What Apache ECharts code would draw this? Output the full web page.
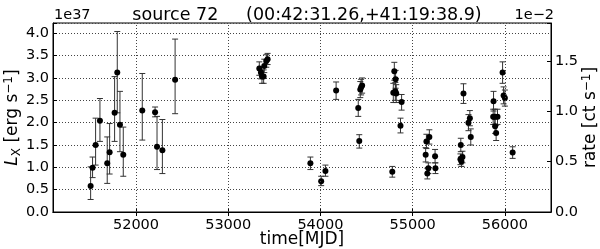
<!DOCTYPE html>
<html>
<head>
<meta charset="utf-8">
<script src="https://cdn.jsdelivr.net/npm/echarts@6/dist/echarts.min.js"></script>
<style>
html, body { margin: 0; padding: 0; background: #fff; }
#chart { width: 600px; height: 249px; }
</style>
</head>
<body>
<div id="chart"></div>
<script>
// light curve of source 72, luminosity in units of 1e37 erg/s
const mjd = [51508, 51529, 51562, 51609, 51688, 51714, 51768, 51797, 51826, 51862,
    52068, 52207, 52228, 52286, 52424,
    53337, 53355, 53366, 53384, 53391, 53413, 53427,
    53891, 54008, 54054, 54170, 54410, 54421, 54432, 54441, 54452,
    54779, 54790, 54801, 54815, 54812, 54822, 54868, 54880,
    55141, 55149, 55181, 55159, 55170, 55243, 55247,
    55522, 55518, 55529, 55540, 55551, 55605, 55620, 55630,
    55877, 55873, 55891, 55920, 55894, 55905, 55975, 55986, 56000, 56084];
const lum = [0.58, 0.99, 1.50, 2.04, 1.09, 1.34, 2.22, 3.12, 1.95, 1.28,
    2.27, 2.23, 1.46, 1.38, 2.96,
    3.21, 3.12, 3.03, 3.03, 3.27, 3.38, 3.42,
    1.09, 0.69, 0.92, 2.72, 2.33, 1.59, 2.74, 2.79, 2.83,
    0.90, 2.67, 3.15, 2.97, 2.70, 2.65, 1.93, 2.46,
    1.28, 1.58, 1.68, 0.86, 0.98, 1.25, 0.98,
    1.50, 1.18, 1.13, 1.23, 2.65, 2.00, 2.10, 1.68,
    2.48, 2.13, 2.13, 2.13, 1.92, 1.77, 3.12, 2.61, 2.55, 1.33];
const errLow = [0.28, 0.77, 1.05, 1.58, 0.64, 0.85, 1.58, 2.22, 1.35, 0.80,
    1.61, 2.13, 0.95, 0.86, 2.20,
    3.06, 2.98, 2.88, 2.88, 3.12, 3.24, 3.30,
    0.95, 0.59, 0.80, 2.52, 2.14, 1.43, 2.56, 2.62, 2.66,
    0.78, 2.45, 2.95, 2.77, 2.50, 2.45, 1.77, 2.28,
    1.12, 1.42, 1.52, 0.74, 0.86, 1.10, 0.86,
    1.35, 1.06, 1.02, 1.10, 2.43, 1.82, 1.93, 1.50,
    2.26, 1.96, 1.96, 1.96, 1.76, 1.60, 2.88, 2.42, 2.37, 1.20];
const errHigh = [1.01, 1.23, 2.10, 2.54, 1.68, 1.98, 3.03, 4.04, 2.70, 1.90,
    3.10, 2.35, 2.14, 2.07, 3.87,
    3.36, 3.26, 3.18, 3.18, 3.42, 3.52, 3.55,
    1.23, 0.80, 1.05, 2.91, 2.52, 1.73, 2.92, 2.97, 3.00,
    1.02, 2.88, 3.35, 3.17, 2.90, 2.85, 2.10, 2.63,
    1.44, 1.74, 1.84, 0.98, 1.10, 1.40, 1.10,
    1.65, 1.30, 1.24, 1.36, 2.87, 2.18, 2.27, 1.86,
    2.70, 2.30, 2.30, 2.30, 2.08, 1.94, 3.36, 2.80, 2.73, 1.46];
const xTicks = [52000, 53000, 54000, 55000, 56000];

const FONT = 'DejaVu Sans';
const chart = echarts.init(document.getElementById('chart'));

const points = mjd.map((t, i) => [t, lum[i]]);
const bars = mjd.map((t, i) => [t, errLow[i], errHigh[i]]);

function renderErrorBar(params, api) {
    const lo = api.coord([api.value(0), api.value(1)]);
    const hi = api.coord([api.value(0), api.value(2)]);
    const cap = 3;
    const style = { stroke: '#333', lineWidth: 1 };
    return {
        type: 'group',
        children: [
            { type: 'line', shape: { x1: lo[0], y1: lo[1], x2: hi[0], y2: hi[1] }, style: style },
            { type: 'line', shape: { x1: lo[0] - cap, y1: lo[1], x2: lo[0] + cap, y2: lo[1] }, style: style },
            { type: 'line', shape: { x1: hi[0] - cap, y1: hi[1], x2: hi[0] + cap, y2: hi[1] }, style: style }
        ]
    };
}

const halfStep = v => Math.abs(v * 2 - Math.round(v * 2)) < 1e-6 ? v.toFixed(1) : '';
const tickFont = { fontFamily: FONT, fontSize: 14.5, color: '#000' };
const dotted = { color: '#444', width: 1, type: [1, 2] };

chart.setOption({
    animation: false,
    title: {
        text: 'source 72     (00:42:31.26,+41:19:38.9)',
        left: 302,
        top: 1,
        textAlign: 'center',
        textStyle: { fontFamily: FONT, fontSize: 17.5, fontWeight: 'normal', color: '#000' }
    },
    graphic: [
        { type: 'text', left: 54, top: 8, style: { text: '1e37', font: '14.5px "DejaVu Sans"', fill: '#000' } },
        { type: 'text', right: 46, top: 8, style: { text: '1e\u22122', font: '14.5px "DejaVu Sans"', fill: '#000' } }
    ],
    grid: {
        left: 53, right: 49, top: 23, bottom: 37,
        outerBoundsMode: 'none', containLabel: false,
        show: true, borderColor: '#000', borderWidth: 1
    },
    xAxis: [
        {
            type: 'value', min: 51100, max: 56500, position: 'bottom',
            name: 'time[MJD]', nameLocation: 'middle', nameGap: 19, nameMoveOverlap: false,
            nameTextStyle: { fontFamily: FONT, fontSize: 17, color: '#000' },
            axisLine: { lineStyle: { color: '#000' } },
            axisTick: { inside: true, length: 4, customValues: xTicks, lineStyle: { color: '#000' } },
            axisLabel: Object.assign({ customValues: xTicks, margin: 6, formatter: v => String(v) }, tickFont),
            splitLine: { show: false }
        },
        {
            type: 'value', min: 51100, max: 56500, position: 'top',
            axisLine: { lineStyle: { color: '#000' } },
            axisTick: { inside: true, length: 4, customValues: xTicks, lineStyle: { color: '#000' } },
            axisLabel: { show: false },
            splitLine: { show: false }
        }
    ],
    yAxis: [
        {
            type: 'value', min: 0, max: 4.23, interval: 0.5, position: 'left',
            name: '{i|L}{sub|X} [erg s{sup|\u22121}]', nameLocation: 'middle', nameGap: 30, nameRotate: 90,
            nameMoveOverlap: false,
            nameTextStyle: {
                fontFamily: FONT, fontSize: 17, color: '#000',
                rich: {
                    i: { fontFamily: FONT, fontSize: 17, fontStyle: 'italic', color: '#000' },
                    sub: { fontFamily: FONT, fontSize: 12, color: '#000', padding: [8, 0, 0, 0] },
                    sup: { fontFamily: FONT, fontSize: 12, color: '#000', padding: [0, 0, 8, 0] }
                }
            },
            axisLine: { lineStyle: { color: '#000' } },
            axisTick: { inside: true, length: 4, lineStyle: { color: '#000' } },
            axisLabel: Object.assign({ formatter: halfStep, margin: 4 }, tickFont),
            splitLine: { show: true, lineStyle: dotted }
        },
        {
            type: 'value', min: 0, max: 1.877, interval: 0.5, position: 'right',
            name: 'rate [ct s{sup|\u22121}]', nameLocation: 'middle', nameGap: 30, nameRotate: 90,
            nameMoveOverlap: false,
            nameTextStyle: {
                fontFamily: FONT, fontSize: 17, color: '#000',
                rich: {
                    sup: { fontFamily: FONT, fontSize: 12, color: '#000', padding: [0, 0, 8, 0] }
                }
            },
            axisLine: { lineStyle: { color: '#000' } },
            axisTick: { inside: true, length: 4, lineStyle: { color: '#000' } },
            axisLabel: Object.assign({ formatter: halfStep, margin: 4 }, tickFont),
            splitLine: { show: false }
        }
    ],
    series: [
        {
            type: 'scatter', data: [], z: 1, silent: true,
            markLine: {
                silent: true, symbol: 'none', label: { show: false },
                lineStyle: dotted,
                data: xTicks.map(v => ({ xAxis: v }))
            }
        },
        {
            type: 'custom', data: bars, renderItem: renderErrorBar, z: 2,
            encode: { x: 0, y: [1, 2] }
        },
        {
            type: 'scatter', data: points, symbol: 'circle', symbolSize: 6, z: 3,
            itemStyle: { color: '#000', opacity: 1 }
        }
    ]
});
</script>
</body>
</html>
